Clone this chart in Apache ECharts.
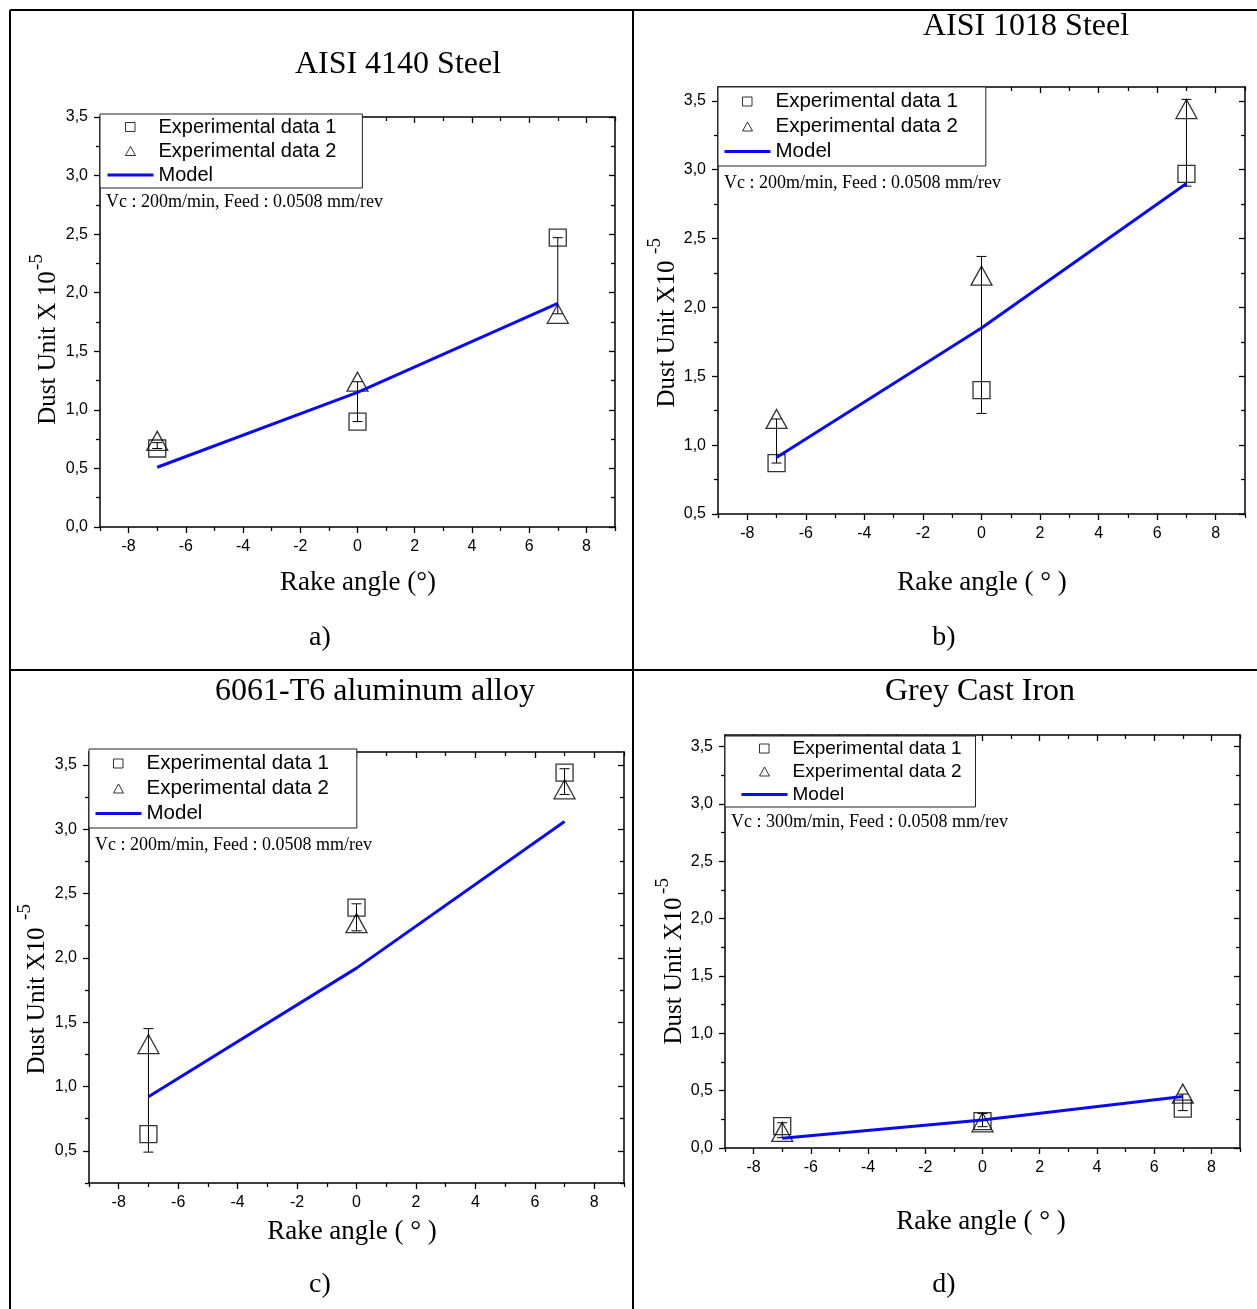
<!DOCTYPE html>
<html>
<head>
<meta charset="utf-8">
<script src="https://cdn.jsdelivr.net/npm/echarts@6/dist/echarts.min.js"></script>
<style>html,body{margin:0;padding:0;background:#fff}#c{width:1257px;height:1309px}</style>
</head>
<body>
<div id="c"></div>
<script>
// ---------------- data ----------------
const rakeAngles = [-7, 0, 7];

const a_exp1 = [0.67, 0.90, 2.47];
const a_exp2 = [0.735, 1.24, 1.82];
const a_model = [0.51, 1.15, 1.91];
const a_errLow = [0.67, 0.90, 1.82];
const a_errHigh = [0.72, 1.24, 2.47];

const b_exp1 = [0.87, 1.40, 2.97];
const b_exp2 = [1.19, 2.23, 3.44];
const b_model = [0.91, 1.85, 2.90];
const b_errLow = [0.87, 1.23, 2.88];
const b_errHigh = [1.19, 2.37, 3.51];

const c_exp1 = [0.63, 2.39, 3.44];
const c_exp2 = [1.33, 2.27, 3.31];
const c_model = [0.92, 1.92, 3.06];
const c_errLow = [0.49, 2.21, 3.27];
const c_errHigh = [1.45, 2.42, 3.47];

const d_exp1 = [0.19, 0.235, 0.343];
const d_exp2 = [0.14, 0.224, 0.474];
const d_model = [0.085, 0.245, 0.448];
const d_errLow = [0.09, 0.186, 0.326];
const d_errHigh = [0.22, 0.30, 0.47];

const xMajorTicks = [-8, -6, -4, -2, 0, 2, 4, 6, 8];
const xMinorTicks = [-9, -7, -5, -3, -1, 1, 3, 5, 7, 9];
const yMajorTicksA = [0, 0.5, 1, 1.5, 2, 2.5, 3, 3.5];
const yMinorTicksA = [0.25, 0.75, 1.25, 1.75, 2.25, 2.75, 3.25];
const yMajorTicksB = [0.5, 1, 1.5, 2, 2.5, 3, 3.5];
const yMinorTicksB = [0.75, 1.25, 1.75, 2.25, 2.75, 3.25];
const yMajorTicksC = [0.5, 1, 1.5, 2, 2.5, 3, 3.5];
const yMinorTicksC = [0.25, 0.75, 1.25, 1.75, 2.25, 2.75, 3.25];
const yMajorTicksD = [0, 0.5, 1, 1.5, 2, 2.5, 3, 3.5];
const yMinorTicksD = [0.25, 0.75, 1.25, 1.75, 2.25, 2.75, 3.25];

const titles = ['AISI 4140 Steel', 'AISI 1018 Steel', '6061-T6 aluminum alloy', 'Grey Cast Iron'];
const subLabels = ['a)', 'b)', 'c)', 'd)'];
const xNames = ['Rake angle (°)', 'Rake angle ( ° )', 'Rake angle ( ° )', 'Rake angle ( ° )'];
const yNames = ['Dust Unit X 10', 'Dust Unit X10', 'Dust Unit X10', 'Dust Unit X10'];
const notes = ['Vc : 200m/min, Feed : 0.0508 mm/rev', 'Vc : 200m/min, Feed : 0.0508 mm/rev',
               'Vc : 200m/min, Feed : 0.0508 mm/rev', 'Vc : 300m/min, Feed : 0.0508 mm/rev'];
const seriesNames = ['Experimental data 1', 'Experimental data 2', 'Model'];

// ---------------- layout ----------------
const SERIF = '"Liberation Serif", "Times New Roman", serif';
const SANS = '"Liberation Sans", Arial, sans-serif';
const MODEL_BLUE = '#0a0aee';

const panels = [
  { grid: {left: 100, top: 117, width: 515, height: 410}, yMin: 0, yMax: 3.5,
    yMajor: yMajorTicksA, yMinor: yMinorTicksA,
    exp1: a_exp1, exp2: a_exp2, model: a_model, lo: a_errLow, hi: a_errHigh,
    legend: {left: 100, top: 114, row: 24, font: 20, pad: [1, 26, 1, 7]},
    title: [398, 65], sub: [320, 638], xName: [358, 583], yName: [48, 348], sup: [37, 262], note: [106, 202] },
  { grid: {left: 718, top: 87, width: 527, height: 427}, yMin: 0.5, yMax: 3.6,
    yMajor: yMajorTicksB, yMinor: yMinorTicksB,
    exp1: b_exp1, exp2: b_exp2, model: b_model, lo: b_errLow, hi: b_errHigh,
    legend: {left: 718, top: 87, row: 25, font: 20.5, pad: [2, 28, 2, 6]},
    title: [1026, 27], sub: [944, 638], xName: [982, 583], yName: [667, 334], sup: [655, 246], note: [724, 183] },
  { grid: {left: 89, top: 752, width: 535, height: 431}, yMin: 0.25, yMax: 3.6,
    yMajor: yMajorTicksC, yMinor: yMinorTicksC,
    exp1: c_exp1, exp2: c_exp2, model: c_model, lo: c_errLow, hi: c_errHigh,
    legend: {left: 89, top: 749, row: 25, font: 20.5, pad: [2, 28, 2, 6]},
    title: [375, 692], sub: [320, 1285], xName: [352, 1232], yName: [37, 1001], sup: [25, 912], note: [95, 845] },
  { grid: {left: 725, top: 735, width: 515, height: 413}, yMin: 0, yMax: 3.6,
    yMajor: yMajorTicksD, yMinor: yMinorTicksD,
    exp1: d_exp1, exp2: d_exp2, model: d_model, lo: d_errLow, hi: d_errHigh,
    legend: {left: 725, top: 736, row: 23, font: 19, pad: [1, 14, 1, 16]},
    title: [980, 692], sub: [944, 1285], xName: [981, 1222], yName: [674, 971], sup: [663, 886], note: [731, 822] }
];

// legend icons: bounding box 46x10 so they are drawn at natural size
const ICON_SQUARE = 'path://M0,0M46,10M18,0.5H27.5V9.5H18Z';
const ICON_TRIANGLE = 'path://M0,0M46,10M23,0.5L28,9.5L18,9.5Z';
const ICON_LINE = 'path://M0,0M46,10M0,3.6H46V6.4H0Z';

const grid = [], xAxis = [], yAxis = [], series = [], legend = [], graphic = [];

function tickAxis(base, opts) {
  return Object.assign({
    type: 'value', splitLine: {show: false},
    axisLine: {show: false, onZero: false, lineStyle: {color: '#000', width: 1.5}},
    axisTick: {show: true, inside: false, length: 6, lineStyle: {color: '#000', width: 1.3}},
    axisLabel: {show: false}
  }, base, opts);
}

panels.forEach((p, i) => {
  grid.push(Object.assign({outerBoundsMode: 'none', containLabel: false}, p.grid));
  const xb = {gridIndex: i, min: -9, max: 9};
  const yb = {gridIndex: i, min: p.yMin, max: p.yMax};
  // x axes: bottom major, bottom minor, top major, top minor
  xAxis.push(tickAxis(xb, {position: 'bottom',
    axisLine: {show: true, onZero: false, lineStyle: {color: '#000', width: 1.5}},
    axisTick: {show: true, inside: false, length: 6, customValues: xMajorTicks, lineStyle: {color: '#000', width: 1.3}},
    axisLabel: {show: true, customValues: xMajorTicks, margin: 12, color: '#000', fontSize: 16, fontFamily: SANS,
      formatter: v => String(v)}}));
  xAxis.push(tickAxis(xb, {position: 'bottom',
    axisTick: {show: true, inside: false, length: 4, customValues: xMinorTicks, lineStyle: {color: '#000', width: 1.3}}}));
  xAxis.push(tickAxis(xb, {position: 'top',
    axisLine: {show: true, onZero: false, lineStyle: {color: '#000', width: 1.5}},
    axisTick: {show: true, inside: true, length: 6, customValues: xMajorTicks, lineStyle: {color: '#000', width: 1.3}}}));
  xAxis.push(tickAxis(xb, {position: 'top',
    axisTick: {show: true, inside: true, length: 4, customValues: xMinorTicks, lineStyle: {color: '#000', width: 1.3}}}));
  // y axes: left major, left minor, right major, right minor
  yAxis.push(tickAxis(yb, {position: 'left',
    axisLine: {show: true, onZero: false, lineStyle: {color: '#000', width: 1.5}},
    axisTick: {show: true, inside: false, length: 6, customValues: p.yMajor, lineStyle: {color: '#000', width: 1.3}},
    axisLabel: {show: true, customValues: p.yMajor, margin: 12, color: '#000', fontSize: 16, fontFamily: SANS,
      formatter: v => Number(v).toFixed(1).replace('.', ',')}}));
  yAxis.push(tickAxis(yb, {position: 'left',
    axisTick: {show: true, inside: false, length: 4, customValues: p.yMinor, lineStyle: {color: '#000', width: 1.3}}}));
  yAxis.push(tickAxis(yb, {position: 'right',
    axisLine: {show: true, onZero: false, lineStyle: {color: '#000', width: 1.5}},
    axisTick: {show: true, inside: true, length: 6, customValues: p.yMajor, lineStyle: {color: '#000', width: 1.3}}}));
  yAxis.push(tickAxis(yb, {position: 'right',
    axisTick: {show: true, inside: true, length: 4, customValues: p.yMinor, lineStyle: {color: '#000', width: 1.3}}}));

  const ax = {xAxisIndex: i * 4, yAxisIndex: i * 4};
  // error bars
  series.push(Object.assign({
    type: 'custom', silent: true, z: 2,
    data: rakeAngles.map((x, k) => [x, p.lo[k], p.hi[k]]),
    encode: {x: 0, y: [1, 2]},
    renderItem: function (params, api) {
      const a = api.coord([api.value(0), api.value(1)]);
      const b = api.coord([api.value(0), api.value(2)]);
      const w = 5, st = {stroke: '#000', lineWidth: 1};
      return {type: 'group', children: [
        {type: 'line', shape: {x1: a[0], y1: a[1], x2: b[0], y2: b[1]}, style: st},
        {type: 'line', shape: {x1: a[0] - w, y1: a[1], x2: a[0] + w, y2: a[1]}, style: st},
        {type: 'line', shape: {x1: b[0] - w, y1: b[1], x2: b[0] + w, y2: b[1]}, style: st}
      ]};
    }
  }, ax));
  series.push(Object.assign({
    name: seriesNames[0], type: 'scatter', symbol: 'rect', symbolSize: 17, z: 3,
    itemStyle: {color: 'rgba(255,255,255,0)', borderColor: '#000', borderWidth: 1.3},
    data: rakeAngles.map((x, k) => [x, p.exp1[k]])
  }, ax));
  series.push(Object.assign({
    name: seriesNames[1], type: 'scatter', symbol: 'triangle', symbolSize: [21, 19], z: 3,
    itemStyle: {color: 'rgba(255,255,255,0)', borderColor: '#000', borderWidth: 1.3},
    data: rakeAngles.map((x, k) => [x, p.exp2[k]])
  }, ax));
  series.push(Object.assign({
    name: seriesNames[2], type: 'line', symbol: 'none', z: 4,
    lineStyle: {color: MODEL_BLUE, width: 3}, itemStyle: {color: MODEL_BLUE},
    data: rakeAngles.map((x, k) => [x, p.model[k]])
  }, ax));

  legend.push({
    left: p.legend.left, top: p.legend.top, orient: 'vertical', selectedMode: false,
    backgroundColor: '#fff', borderColor: '#222', borderWidth: 1, padding: p.legend.pad,
    itemWidth: 46, itemHeight: 10, itemGap: 0, symbolKeepAspect: true,
    textStyle: {color: '#000', fontSize: p.legend.font, fontFamily: SANS, lineHeight: p.legend.row},
    data: [
      {name: seriesNames[0], icon: ICON_SQUARE,
       itemStyle: {color: 'rgba(255,255,255,0)', borderColor: '#000', borderWidth: 1}},
      {name: seriesNames[1], icon: ICON_TRIANGLE,
       itemStyle: {color: 'rgba(255,255,255,0)', borderColor: '#000', borderWidth: 1}},
      {name: seriesNames[2], icon: ICON_LINE,
       itemStyle: {color: MODEL_BLUE, borderWidth: 0}}
    ]
  });

  const txt = (x, y, text, font, rot, align) => ({
    type: 'text', x: x, y: y, rotation: rot || 0, silent: true, z: 10,
    style: {text: text, font: font, fill: '#000', align: align || 'center', verticalAlign: 'middle',
            textAlign: align || 'center', textVerticalAlign: 'middle'}
  });
  graphic.push(txt(p.title[0], p.title[1], titles[i], '32px ' + SERIF));
  graphic.push(txt(p.sub[0], p.sub[1], subLabels[i], '28px ' + SERIF));
  graphic.push(txt(p.xName[0], p.xName[1], xNames[i], '27px ' + SERIF));
  graphic.push(txt(p.yName[0], p.yName[1], yNames[i], '25px ' + SERIF, Math.PI / 2));
  graphic.push(txt(p.sup[0], p.sup[1], '-5', '19px ' + SERIF, Math.PI / 2));
  graphic.push(txt(p.note[0], p.note[1], notes[i], '18px ' + SERIF, 0, 'left'));
});

// table borders
const L = (x1, y1, x2, y2) => ({type: 'line', silent: true, z: 20,
  shape: {x1, y1, x2, y2}, style: {stroke: '#000', lineWidth: 2}});
graphic.push(L(10, 10, 1257, 10), L(10, 670, 1257, 670), L(10, 10, 10, 1309), L(633, 10, 633, 1309));

const chart = echarts.init(document.getElementById('c'), null, {renderer: 'canvas'});
chart.setOption({
  backgroundColor: '#fff', animation: false,
  grid, xAxis, yAxis, series, legend, graphic
});
</script>
</body>
</html>
